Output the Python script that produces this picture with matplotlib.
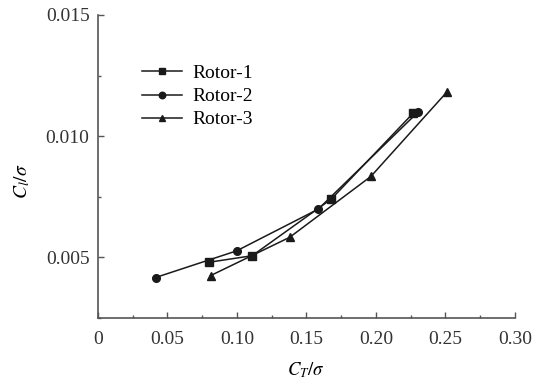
import numpy as np
import matplotlib.pyplot as plt
from matplotlib.ticker import MultipleLocator

plt.rcParams['font.family'] = ['Liberation Serif', 'DejaVu Serif']
plt.rcParams['mathtext.fontset'] = 'stix'

# data
rotor1_ct = [0.080, 0.111, 0.168, 0.227]
rotor1_cl = [0.00480, 0.00507, 0.00741, 0.01096]
rotor2_ct = [0.0415, 0.0998, 0.1585, 0.2304]
rotor2_cl = [0.00417, 0.00527, 0.00699, 0.01100]
rotor3_ct = [0.0811, 0.138, 0.1964, 0.2509]
rotor3_cl = [0.00425, 0.00583, 0.00834, 0.01181]

fig = plt.figure(figsize=(5.38, 3.89), dpi=100)
ax = fig.add_axes([0.182, 0.1825, 0.775, 0.779])

line_kw = dict(color='#1a1a1a', lw=1.1, markersize=5.5)
ax.plot(rotor1_ct, rotor1_cl, marker='s', label='Rotor-1', **line_kw)
ax.plot(rotor2_ct, rotor2_cl, marker='o', label='Rotor-2', **line_kw)
ax.plot(rotor3_ct, rotor3_cl, marker='^', label='Rotor-3', **line_kw)

ax.set_xlim(0, 0.30)
ax.set_ylim(0.0025, 0.015)
ax.set_xticks([0, 0.05, 0.10, 0.15, 0.20, 0.25, 0.30])
ax.set_xticklabels(['0', '0.05', '0.10', '0.15', '0.20', '0.25', '0.30'])
ax.set_yticks([0.005, 0.010, 0.015])
ax.set_yticklabels(['0.005', '0.010', '0.015'])
ax.xaxis.set_minor_locator(MultipleLocator(0.025))
ax.yaxis.set_minor_locator(MultipleLocator(0.0025))

for s in ['top', 'right']:
    ax.spines[s].set_visible(False)
for s in ['left', 'bottom']:
    ax.spines[s].set_color('#555555')
    ax.spines[s].set_linewidth(1.2)

ax.tick_params(which='major', direction='in', length=4, width=1, color='#555555',
               labelsize=14, labelcolor='#333333', pad=6)
ax.tick_params(axis='x', which='major', pad=9)
ax.tick_params(which='minor', direction='in', length=2, width=1, color='#555555')

ax.set_xlabel(r'$C_T/\sigma$', fontsize=13.5, labelpad=9)
ax.set_ylabel(r'$C_l/\sigma$', fontsize=14)
ax.yaxis.set_label_coords(-0.158, 0.45)

ax.legend(loc='upper left', bbox_to_anchor=(0.1055, 0.836), frameon=False, fontsize=14,
          borderpad=0, borderaxespad=0, handlelength=2.05, labelspacing=0.28,
          handletextpad=0.55, markerscale=0.85)

fig.savefig('out.png', dpi=100)
